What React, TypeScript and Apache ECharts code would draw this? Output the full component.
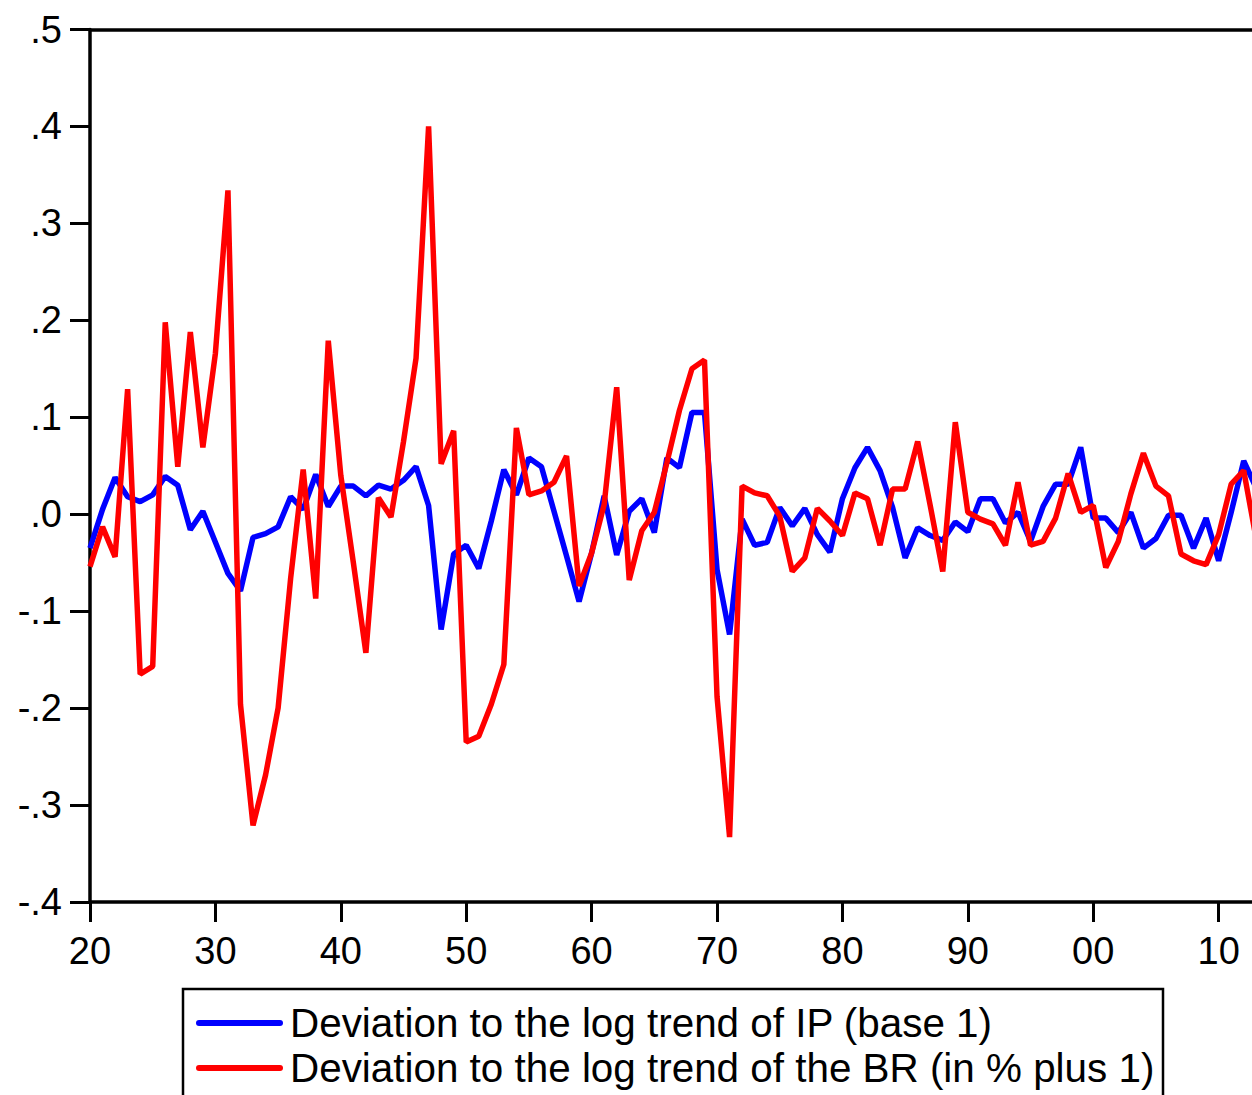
import React, { useEffect, useRef } from "react";
import * as echarts from "echarts";

const years: number[] = [];
for (let y = 1920; y <= 2013; y++) years.push(y);

const ipDeviation = [
  -0.035, 0.005, 0.038, 0.018, 0.013, 0.02, 0.039, 0.03, -0.016, 0.003,
  -0.029, -0.061, -0.079, -0.024, -0.02, -0.013, 0.018, 0.005, 0.041, 0.008,
  0.029, 0.029, 0.019, 0.03, 0.026, 0.035, 0.049, 0.009, -0.119, -0.041,
  -0.032, -0.056, -0.007, 0.046, 0.02, 0.058, 0.049, 0.003, -0.043, -0.09,
  -0.04, 0.019, -0.042, 0.003, 0.016, -0.019, 0.058, 0.048, 0.105, 0.105,
  -0.057, -0.124, -0.005, -0.032, -0.029, 0.007, -0.012, 0.006, -0.021, -0.039,
  0.016, 0.048, 0.069, 0.045, 0.007, -0.045, -0.014, -0.022, -0.027, -0.008,
  -0.018, 0.016, 0.016, -0.009, 0.002, -0.028, 0.008, 0.031, 0.031, 0.069,
  -0.004, -0.004, -0.019, 0.002, -0.035, -0.025, -0.001, -0.001, -0.035, -0.004,
  -0.048, 0.002, 0.055, 0.027,
];

const brDeviation = [
  -0.054, -0.013, -0.044, 0.129, -0.165, -0.157, 0.198, 0.049, 0.188, 0.069,
  0.166, 0.334, -0.196, -0.321, -0.269, -0.2, -0.066, 0.046, -0.087, 0.179,
  0.04, -0.05, -0.143, 0.017, -0.003, 0.075, 0.161, 0.4, 0.052, 0.086,
  -0.235, -0.229, -0.196, -0.155, 0.089, 0.02, 0.024, 0.033, 0.06, -0.074,
  -0.04, 0.01, 0.131, -0.068, -0.017, 0.002, 0.053, 0.107, 0.15, 0.159,
  -0.188, -0.333, 0.029, 0.022, 0.019, -0.002, -0.059, -0.045, 0.006, -0.007,
  -0.022, 0.022, 0.016, -0.032, 0.026, 0.026, 0.075, 0.009, -0.059, 0.095,
  0.002, -0.005, -0.01, -0.032, 0.033, -0.032, -0.028, -0.004, 0.042, 0.002,
  0.009, -0.055, -0.028, 0.021, 0.063, 0.029, 0.019, -0.041, -0.048, -0.052,
  -0.021, 0.031, 0.045, -0.026,
];

const seriesNames = [
  "Deviation to the log trend of IP (base 1)",
  "Deviation to the log trend of the BR (in % plus 1)",
];
const seriesColors = ["#0000ff", "#ff0000"];

const FONT = "'Liberation Sans', Arial, Helvetica, sans-serif";

function fmtY(v: number): string {
  const r = Math.round(v * 10) / 10;
  const s = Math.abs(r).toFixed(1).replace(/^0/, "");
  return (r < 0 ? "-" : "") + s;
}

function fmtX(v: number): string {
  const m = ((Math.round(v) % 100) + 100) % 100;
  return m < 10 ? "0" + m : String(m);
}

export default function App() {
  const ref = useRef<HTMLDivElement>(null);
  useEffect(() => {
    if (!ref.current) return;
    const chart = echarts.init(ref.current, null, { renderer: "svg" });
    const axisLineStyle = { color: "#000", width: 3.5 };
    const legendRows = [1023, 1068];
    chart.setOption({
      animation: false,
      backgroundColor: "#fff",
      grid: { left: 90, top: 29.5, right: 0, bottom: 193, containLabel: false },
      xAxis: [
        {
          type: "value",
          min: 1920,
          max: 2012.66,
          interval: 10,
          axisLine: { show: true, onZero: false, lineStyle: axisLineStyle },
          axisTick: { show: true, length: 20, inside: false, lineStyle: { color: "#000", width: 3 } },
          axisLabel: {
            fontSize: 38,
            color: "#000",
            fontFamily: FONT,
            margin: 30,
            formatter: fmtX,
            showMaxLabel: false,
          },
          splitLine: { show: false },
        },
        {
          type: "value",
          position: "top",
          min: 1920,
          max: 2012.66,
          axisLine: { show: true, onZero: false, lineStyle: axisLineStyle },
          axisTick: { show: false },
          axisLabel: { show: false },
          splitLine: { show: false },
        },
      ],
      yAxis: {
        type: "value",
        min: -0.4,
        max: 0.5,
        interval: 0.1,
        axisLine: { show: true, onZero: false, lineStyle: axisLineStyle },
        axisTick: { show: true, length: 20, inside: false, lineStyle: { color: "#000", width: 3 } },
        axisLabel: {
          fontSize: 38,
          color: "#000",
          fontFamily: FONT,
          margin: 28,
          formatter: fmtY,
        },
        splitLine: { show: false },
      },
      graphic: [
        {
          type: "rect",
          shape: { x: 183, y: 989, width: 980, height: 200 },
          style: { fill: "none", stroke: "#000", lineWidth: 2.5 },
          silent: true,
        },
        ...seriesNames.map((name, i) => ({
          type: "group",
          silent: true,
          children: [
            {
              type: "line",
              shape: { x1: 199, y1: legendRows[i], x2: 280, y2: legendRows[i] },
              style: { stroke: seriesColors[i], lineWidth: 6, lineCap: "round" },
            },
            {
              type: "text",
              x: 290,
              y: legendRows[i],
              style: {
                text: name,
                fill: "#000",
                font: `40.4px ${FONT}`,
                textAlign: "left",
                textVerticalAlign: "middle",
                verticalAlign: "middle",
              },
            },
          ],
        })),
      ],
      series: seriesNames.map((name, i) => ({
        name,
        type: "line",
        data: years.map((y, k) => [y, (i === 0 ? ipDeviation : brDeviation)[k]]),
        symbol: "none",
        clip: true,
        lineStyle: { color: seriesColors[i], width: 5.5 },
        itemStyle: { color: seriesColors[i] },
      })),
    });
    return () => chart.dispose();
  }, []);
  return (
    <div
      ref={ref}
      style={{ position: "absolute", left: 0, top: 0, width: 1252, height: 1095, background: "#fff" }}
    />
  );
}
